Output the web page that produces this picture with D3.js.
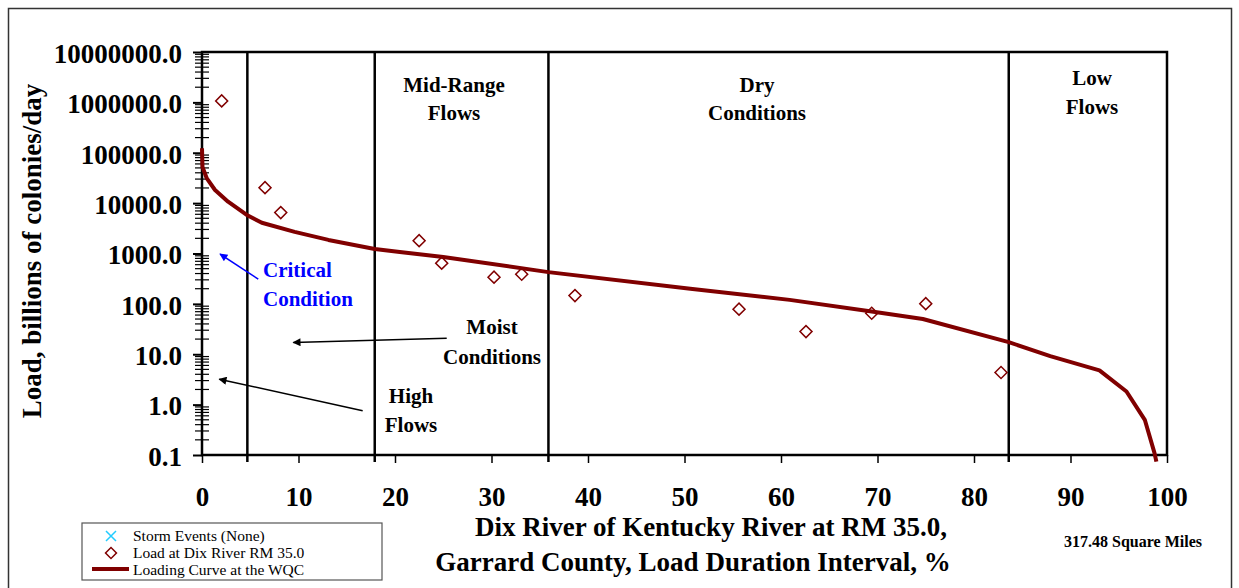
<!DOCTYPE html>
<html><head><meta charset="utf-8">
<script src="https://cdn.jsdelivr.net/npm/d3@7"></script>
<style>body{margin:0;background:#fff}svg{display:block}</style>
</head><body><svg id="c" width="1239" height="588"></svg>
<script>
// ---- data ----
const curvePct  = [0, 0.05, 0.5, 1.35, 2.7, 4.6, 6.2, 9.6, 13.1, 17.9, 20.5, 25, 35.9, 50.6, 60.9, 69.4, 74.7, 83.6, 87.9, 93.0, 95.8, 97.7, 98.7, 98.9];
const curveLoad = [123000, 52500, 30900, 18200, 10700, 5890, 4070, 2690, 1860, 1230, 1070, 851, 427, 200, 120, 70.8, 50.1, 17.4, 9.2, 4.79, 1.82, 0.50, 0.11, 0.074];
const obsPct  = [2.04, 6.53, 8.16, 22.5, 24.84, 30.26, 33.13, 38.65, 55.65, 62.59, 69.40, 75.0, 82.8];
const obsLoad = [1070000, 20300, 6490, 1800, 643, 339, 388, 146, 78.5, 28.2, 65.3, 101, 4.34];
const stormPct = [], stormLoad = [];
const xTickValues = [0,10,20,30,40,50,60,70,80,90,100];
const yTickValues = [0.1,1,10,100,1000,10000,100000,1000000,10000000];
const zoneBounds = [4.7, 17.9, 35.9, 83.6];
const legendLabels = ["Storm Events (None)", "Load at Dix River RM 35.0", "Loading Curve at the WQC"];
const yTitle = "Load, billions of colonies/day";
const xTitle1 = "Dix River of Kentucky River at RM 35.0,";
const xTitle2 = "Garrard County, Load Duration Interval, %";
const areaNote = "317.48 Square Miles";

// ---- layout ----
const svg = d3.select("#c");
const FONT = "'Liberation Serif','Times New Roman',serif";
const MAROON = "#800000";
const x = d3.scaleLinear().domain([0,100]).range([202,1167]);
const y = d3.scaleLog().domain([0.1,1e7]).range([455,52]);

// outer frame
svg.append("rect").attr("x",8.5).attr("y",8.5).attr("width",1223).attr("height",600)
  .attr("fill","none").attr("stroke","#333").attr("stroke-width",1.5);

// minor y ticks
const minor = [];
for (let d = 0.1; d < 1e7; d *= 10) for (let k = 2; k <= 9; k++) minor.push(d*k);
svg.append("g").selectAll("line").data(minor).join("line")
  .attr("x1",195).attr("x2",209).attr("y1",d=>y(d)).attr("y2",d=>y(d))
  .attr("stroke","#000").attr("stroke-width",1.2);

// y axis
const gy = svg.append("g").attr("transform",`translate(${x(0)},0)`)
  .call(d3.axisLeft(y).tickValues(yTickValues).tickFormat(d3.format(".1f")).tickSize(9).tickPadding(11));
gy.select(".domain").remove();
gy.selectAll(".tick line").attr("stroke","#000").attr("stroke-width",2);
gy.selectAll(".tick text").attr("font-family",FONT).attr("font-weight","bold").attr("font-size",27).attr("fill","#000").attr("dy","0.38em");

// x axis
const gx = svg.append("g").attr("transform",`translate(0,${y(0.1)})`)
  .call(d3.axisBottom(x).tickValues(xTickValues).tickFormat(d3.format("d")).tickSize(8).tickPadding(43));
gx.select(".domain").remove();
gx.selectAll(".tick line").attr("stroke","#000").attr("stroke-width",1.5);
gx.selectAll(".tick text").attr("font-family",FONT).attr("font-weight","bold").attr("font-size",27).attr("fill","#000").attr("dy","0");

// plot frame
svg.append("path")
  .attr("d",`M${x(0)},${y(0.1)}H${x(100)}V${y(1e7)}H${x(0)}Z`)
  .attr("fill","none").attr("stroke","#000").attr("stroke-width",2.5);

// zone boundaries
svg.append("g").selectAll("line").data(zoneBounds).join("line")
  .attr("x1",d=>x(d)).attr("x2",d=>x(d)).attr("y1",y(1e7)).attr("y2",y(0.1)+7)
  .attr("stroke","#000").attr("stroke-width",2.5);

// zone labels
const zoneText = [
  {lines:["Mid-Range","Flows"], px:454, py:[92,120]},
  {lines:["Dry","Conditions"], px:757, py:[92,120]},
  {lines:["Low","Flows"], px:1092, py:[85,114]},
  {lines:["Moist","Conditions"], px:492, py:[334,364]},
  {lines:["High","Flows"], px:411, py:[403,432]}
];
zoneText.forEach(z => z.lines.forEach((t,i) => {
  svg.append("text").attr("x",z.px).attr("y",z.py[i]).attr("text-anchor","middle")
    .attr("font-family",FONT).attr("font-weight","bold").attr("font-size",21).attr("fill","#000").text(t);
}));
["Critical","Condition"].forEach((t,i)=>{
  svg.append("text").attr("x",263).attr("y",[277,306][i])
    .attr("font-family",FONT).attr("font-weight","bold").attr("font-size",21).attr("fill","#0000ff").text(t);
});

// arrows (data space)
const defs = svg.append("defs");
[["ahK","#000"],["ahB","#0000ff"]].forEach(([id,c])=>{
  defs.append("marker").attr("id",id).attr("viewBox","0 0 10 10").attr("refX",9).attr("refY",5)
    .attr("markerWidth",10).attr("markerHeight",8).attr("markerUnits","userSpaceOnUse").attr("orient","auto")
    .append("path").attr("d","M0,0L10,5L0,10Z").attr("fill",c);
});
const arrows = [
  {from:[5.83,309], to:[1.87,977], color:"#0000ff", m:"ahB"},
  {from:[25.36,20.8], to:[9.46,17.1], color:"#000", m:"ahK"},
  {from:[16.65,0.753], to:[1.79,3.2], color:"#000", m:"ahK"}
];
arrows.forEach(a=>{
  svg.append("line").attr("x1",x(a.from[0])).attr("y1",y(a.from[1])).attr("x2",x(a.to[0])).attr("y2",y(a.to[1]))
    .attr("stroke",a.color).attr("stroke-width",1.5).attr("marker-end",`url(#${a.m})`);
});

// loading curve
const curveData = curvePct.map((p,i)=>[p,curveLoad[i]]);
svg.append("path").datum(curveData)
  .attr("d",d3.line().x(d=>x(d[0])).y(d=>y(d[1])))
  .attr("fill","none").attr("stroke",MAROON).attr("stroke-width",4).attr("stroke-linejoin","round");

// observed points
const diamond = d3.symbol().type(d3.symbolSquare).size(72);
svg.append("g").selectAll("path").data(obsPct.map((p,i)=>[p,obsLoad[i]])).join("path")
  .attr("d",diamond).attr("transform",d=>`translate(${x(d[0])},${y(d[1])}) rotate(45)`)
  .attr("fill","none").attr("stroke",MAROON).attr("stroke-width",1.5);

// storm events (none)
svg.append("g").selectAll("path").data(stormPct.map((p,i)=>[p,stormLoad[i]])).join("path")
  .attr("d",d3.symbol().type(d3.symbolCross).size(50))
  .attr("transform",d=>`translate(${x(d[0])},${y(d[1])}) rotate(45)`).attr("fill","#00ccff");

// axis titles
svg.append("text").attr("transform","translate(41,251) rotate(-90)").attr("text-anchor","middle")
  .attr("font-family",FONT).attr("font-weight","bold").attr("font-size",27).text(yTitle);
svg.append("text").attr("x",711).attr("y",536).attr("text-anchor","middle")
  .attr("font-family",FONT).attr("font-weight","bold").attr("font-size",27).text(xTitle1);
svg.append("text").attr("x",693).attr("y",571).attr("text-anchor","middle")
  .attr("font-family",FONT).attr("font-weight","bold").attr("font-size",27).text(xTitle2);
svg.append("text").attr("x",1133).attr("y",547).attr("text-anchor","middle")
  .attr("font-family",FONT).attr("font-weight","bold").attr("font-size",16).text(areaNote);

// legend
const lg = svg.append("g");
lg.append("rect").attr("x",82).attr("y",523).attr("width",300).attr("height",57)
  .attr("fill","#fff").attr("stroke","#555").attr("stroke-width",1.2);
lg.append("path").attr("d","M106,531L116,541M116,531L106,541").attr("stroke","#22ccff").attr("stroke-width",1.5);
lg.append("path").attr("d",d3.symbol().type(d3.symbolSquare).size(60)).attr("transform","translate(111,553) rotate(45)")
  .attr("fill","none").attr("stroke",MAROON).attr("stroke-width",1.5);
lg.append("line").attr("x1",92).attr("x2",129).attr("y1",569).attr("y2",569).attr("stroke",MAROON).attr("stroke-width",4);
legendLabels.forEach((t,i)=>{
  lg.append("text").attr("x",133).attr("y",[541,558,575][i]).attr("font-family",FONT).attr("font-size",15.5).attr("fill","#000").text(t);
});
</script></body></html>
